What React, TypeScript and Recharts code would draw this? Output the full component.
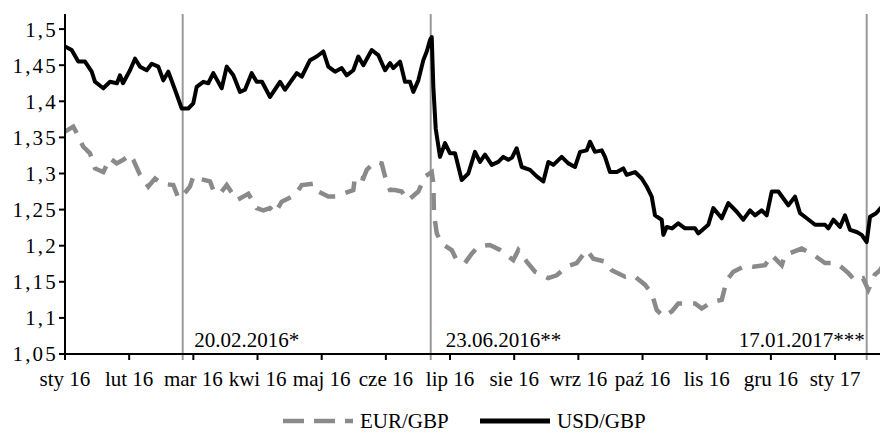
import React from "react";
import { LineChart, Line, XAxis, YAxis, ReferenceLine, Legend } from "recharts";

// Month tick labels (position = months since 1 Jan 2016)
const monthLabels = ["sty 16", "lut 16", "mar 16", "kwi 16", "maj 16", "cze 16", "lip 16", "sie 16", "wrz 16", "paź 16", "lis 16", "gru 16", "sty 17"];
const monthTicks = [0, 1, 2, 3, 4, 5, 6, 7, 8, 9, 10, 11, 12];
const yTicks = [1.05, 1.1, 1.15, 1.2, 1.25, 1.3, 1.35, 1.4, 1.45, 1.5];

// USD/GBP: time (months since 1 Jan 2016) and value
const usdT = [0.0, 0.104, 0.207, 0.312, 0.416, 0.468, 0.597, 0.701, 0.81, 0.857, 0.904, 1.013, 1.091, 1.169, 1.273, 1.351, 1.454, 1.532, 1.61, 1.714, 1.819, 1.921, 1.999, 2.052, 2.155, 2.233, 2.311, 2.442, 2.52, 2.623, 2.727, 2.805, 2.909, 2.987, 3.07, 3.195, 3.351, 3.428, 3.611, 3.689, 3.818, 3.922, 4.025, 4.103, 4.208, 4.312, 4.39, 4.493, 4.571, 4.649, 4.78, 4.882, 4.987, 5.065, 5.116, 5.221, 5.298, 5.376, 5.428, 5.506, 5.584, 5.637, 5.688, 5.715, 5.74, 5.777, 5.844, 5.922, 6.0, 6.078, 6.182, 6.285, 6.389, 6.467, 6.545, 6.65, 6.752, 6.83, 6.908, 6.966, 7.039, 7.117, 7.247, 7.351, 7.454, 7.532, 7.61, 7.74, 7.843, 7.948, 8.026, 8.13, 8.181, 8.259, 8.364, 8.415, 8.493, 8.6, 8.7, 8.753, 8.883, 8.987, 9.065, 9.143, 9.194, 9.299, 9.324, 9.377, 9.46, 9.557, 9.662, 9.818, 9.869, 10.025, 10.103, 10.234, 10.337, 10.468, 10.57, 10.675, 10.753, 10.857, 10.935, 11.013, 11.116, 11.272, 11.376, 11.454, 11.559, 11.688, 11.844, 11.896, 11.974, 12.077, 12.155, 12.233, 12.337, 12.415, 12.493, 12.545, 12.64, 12.727, 12.805];
const usdV = [1.476, 1.471, 1.455, 1.455, 1.441, 1.427, 1.418, 1.427, 1.425, 1.436, 1.425, 1.443, 1.459, 1.448, 1.443, 1.452, 1.448, 1.429, 1.441, 1.416, 1.39, 1.39, 1.397, 1.42, 1.427, 1.425, 1.439, 1.418, 1.448, 1.436, 1.413, 1.416, 1.439, 1.427, 1.427, 1.406, 1.427, 1.416, 1.439, 1.434, 1.457, 1.462, 1.469, 1.448, 1.441, 1.446, 1.436, 1.443, 1.462, 1.45, 1.471, 1.464, 1.443, 1.453, 1.446, 1.455, 1.427, 1.427, 1.413, 1.429, 1.457, 1.469, 1.485, 1.489, 1.42, 1.362, 1.323, 1.342, 1.328, 1.328, 1.291, 1.3, 1.33, 1.316, 1.326, 1.312, 1.316, 1.323, 1.319, 1.322, 1.335, 1.309, 1.305, 1.296, 1.289, 1.316, 1.312, 1.323, 1.314, 1.309, 1.33, 1.332, 1.344, 1.33, 1.332, 1.323, 1.302, 1.302, 1.307, 1.298, 1.302, 1.293, 1.282, 1.268, 1.242, 1.236, 1.215, 1.226, 1.224, 1.231, 1.224, 1.224, 1.217, 1.229, 1.252, 1.238, 1.259, 1.247, 1.236, 1.249, 1.242, 1.249, 1.242, 1.275, 1.275, 1.256, 1.268, 1.245, 1.238, 1.229, 1.229, 1.224, 1.236, 1.226, 1.242, 1.222, 1.219, 1.215, 1.205, 1.24, 1.245, 1.254, 1.263];

// EUR/GBP: time (months since 1 Jan 2016) and value
const eurT = [0.0, 0.129, 0.182, 0.285, 0.39, 0.468, 0.597, 0.701, 0.806, 0.909, 1.013, 1.064, 1.169, 1.298, 1.403, 1.507, 1.688, 1.766, 1.823, 1.948, 1.999, 2.077, 2.26, 2.311, 2.415, 2.52, 2.676, 2.779, 2.857, 2.987, 3.09, 3.195, 3.273, 3.377, 3.584, 3.689, 3.869, 3.947, 4.103, 4.234, 4.337, 4.493, 4.52, 4.649, 4.702, 4.831, 4.935, 4.987, 5.065, 5.143, 5.247, 5.35, 5.506, 5.61, 5.715, 5.74, 5.75, 5.793, 5.87, 6.026, 6.104, 6.233, 6.338, 6.441, 6.623, 6.779, 6.986, 7.064, 7.195, 7.324, 7.532, 7.662, 7.818, 7.974, 8.13, 8.233, 8.415, 8.52, 8.727, 8.856, 9.038, 9.143, 9.221, 9.324, 9.455, 9.557, 9.68, 9.818, 9.922, 10.078, 10.234, 10.312, 10.415, 10.623, 10.727, 10.909, 11.013, 11.169, 11.22, 11.48, 11.636, 11.844, 12.026, 12.207, 12.311, 12.435, 12.518, 12.62, 12.701, 12.805];
const eurV = [1.358, 1.365, 1.356, 1.337, 1.328, 1.307, 1.302, 1.321, 1.314, 1.319, 1.326, 1.319, 1.298, 1.282, 1.293, 1.286, 1.284, 1.266, 1.268, 1.282, 1.296, 1.293, 1.289, 1.277, 1.272, 1.284, 1.263, 1.268, 1.272, 1.252, 1.249, 1.252, 1.245, 1.261, 1.27, 1.284, 1.286, 1.275, 1.268, 1.268, 1.272, 1.277, 1.296, 1.293, 1.305, 1.316, 1.314, 1.296, 1.277, 1.277, 1.275, 1.263, 1.275, 1.296, 1.302, 1.286, 1.245, 1.217, 1.203, 1.194, 1.18, 1.176, 1.189, 1.199, 1.201, 1.194, 1.18, 1.194, 1.178, 1.164, 1.155, 1.159, 1.171, 1.176, 1.194, 1.182, 1.178, 1.166, 1.157, 1.159, 1.146, 1.134, 1.111, 1.102, 1.109, 1.12, 1.12, 1.12, 1.113, 1.122, 1.125, 1.152, 1.164, 1.173, 1.171, 1.173, 1.187, 1.173, 1.187, 1.196, 1.189, 1.176, 1.176, 1.162, 1.152, 1.155, 1.139, 1.16, 1.166, 1.182];

// Event markers
const eventT = [1.834, 5.699, 12.493];
const eventLabels = ["20.02.2016*", "23.06.2016**", "17.01.2017***"];

const usdData = usdT.map((t, i) => ({ t, v: usdV[i] }));
const eurData = eurT.map((t, i) => ({ t, v: eurV[i] }));

const FONT = '"Liberation Serif", "Times New Roman", Times, "DejaVu Serif", serif';
const eventLayout = [
  { anchor: "start", dx: 11.5 },
  { anchor: "start", dx: 15 },
  { anchor: "end", dx: -2 },
];

const makeShape = (idx: number) => (p: any) => {
  const top = Math.min(p.y1, p.y2);
  const bottom = Math.max(p.y1, p.y2);
  const lay = eventLayout[idx];
  return (
    <g>
      <line x1={p.x1} x2={p.x2} y1={top} y2={bottom + 6} stroke="#999999" strokeWidth={2} />
      <text
        x={p.x1 + lay.dx}
        y={bottom - 7.5}
        textAnchor={lay.anchor as any}
        style={{ fontFamily: FONT, fontSize: 21 }}
        fill="#000"
      >
        {eventLabels[idx]}
      </text>
    </g>
  );
};

const LegendBox = () => (
  <div style={{ position: "relative", width: 880, height: 40, fontFamily: FONT, fontSize: 21, color: "#000" }}>
    <svg style={{ position: "absolute", left: 275, top: 19 }} width={72} height={10}>
      <line x1={0} x2={70} y1={5} y2={5} stroke="#8a8a8a" strokeWidth={4.5} strokeDasharray="21 10" />
    </svg>
    <span style={{ position: "absolute", left: 352, top: 11, lineHeight: "26px", whiteSpace: "nowrap" }}>EUR/GBP</span>
    <svg style={{ position: "absolute", left: 472, top: 19 }} width={72} height={10}>
      <line x1={0} x2={70} y1={5} y2={5} stroke="#000" strokeWidth={5} />
    </svg>
    <span style={{ position: "absolute", left: 549, top: 11, lineHeight: "26px", whiteSpace: "nowrap" }}>USD/GBP</span>
  </div>
);

const xTickStyle = { fill: "#000", fontSize: 21, style: { fontFamily: FONT } };
const yTickStyle = { fill: "#000", fontSize: 21, style: { fontFamily: FONT, letterSpacing: "2.2px" } };

export default function App() {
  return (
    <div style={{ width: 880, height: 429, fontFamily: FONT }}>
      <LineChart width={880} height={429} margin={{ top: 6, right: 0, bottom: 0, left: 0 }} style={{ fontFamily: FONT }}>
        <XAxis
          dataKey="t"
          type="number"
          domain={[0, 12.825]}
          allowDataOverflow
          ticks={monthTicks}
          tickFormatter={(v: number) => monthLabels[v] ?? ""}
          interval={0}
          height={43}
          tickSize={6}
          tickMargin={11}
          axisLine={{ stroke: "#000", strokeWidth: 2 }}
          tickLine={{ stroke: "#000", strokeWidth: 2 }}
          tick={xTickStyle}
        />
        <YAxis
          type="number"
          domain={[1.05, 1.5209]}
          allowDataOverflow
          ticks={yTicks}
          interval={0}
          width={57}
          tickSize={6}
          tickMargin={1}
          tickFormatter={(v: number) => String(v).replace(".", ",")}
          axisLine={{ stroke: "#000", strokeWidth: 2 }}
          tickLine={{ stroke: "#000", strokeWidth: 2 }}
          tick={yTickStyle}
        />
        {eventT.map((t, i) => (
          <ReferenceLine key={i} x={t} shape={makeShape(i)} ifOverflow="visible" />
        ))}
        <Line
          data={eurData}
          dataKey="v"
          name="EUR/GBP"
          type="linear"
          stroke="#8a8a8a"
          strokeWidth={4.5}
          strokeDasharray="17 11"
          dot={false}
          activeDot={false}
          isAnimationActive={false}
        />
        <Line
          data={usdData}
          dataKey="v"
          name="USD/GBP"
          type="linear"
          stroke="#000"
          strokeWidth={4}
          strokeLinejoin="round"
          dot={false}
          activeDot={false}
          isAnimationActive={false}
        />
        <Legend
          verticalAlign="bottom"
          height={40}
          content={() => <LegendBox />}
          wrapperStyle={{ left: 0, bottom: 0, width: 880, height: 40 }}
        />
      </LineChart>
    </div>
  );
}
